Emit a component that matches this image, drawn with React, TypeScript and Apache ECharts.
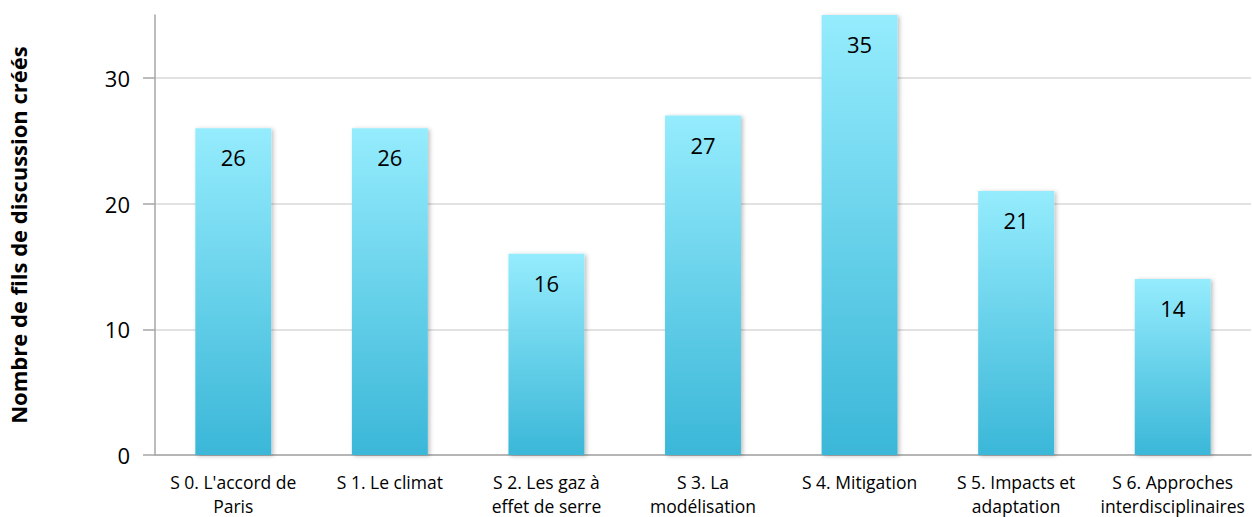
import React, { useEffect, useRef } from "react";
import * as echarts from "echarts";

const categories = [
  "S 0. L'accord de\nParis",
  "S 1. Le climat",
  "S 2. Les gaz à\neffet de serre",
  "S 3. La\nmodélisation",
  "S 4. Mitigation",
  "S 5. Impacts et\nadaptation",
  "S 6. Approches\ninterdisciplinaires",
];
const values = [26, 26, 16, 27, 35, 21, 14];
const yAxisTitle = "Nombre de fils de discussion créés";

const FONT = "'Open Sans', 'Noto Sans', sans-serif";

export default function App() {
  const ref = useRef<HTMLDivElement>(null);
  useEffect(() => {
    if (!ref.current) return;
    const chart = echarts.init(ref.current, null, { renderer: "svg" });
    chart.setOption({
      animation: false,
      grid: {
        left: 155,
        right: 1,
        top: 15,
        bottom: 62,
        containLabel: false,
        outerBoundsMode: "none",
      },
      xAxis: {
        type: "category",
        data: categories,
        axisLine: { lineStyle: { color: "#a6a6a6", width: 1.5 } },
        axisTick: { show: false },
        axisLabel: {
          color: "#000",
          fontFamily: FONT,
          fontSize: 17.5,
          lineHeight: 24,
          margin: 15,
          interval: 0,
        },
      },
      yAxis: {
        type: "value",
        min: 0,
        max: 35,
        interval: 10,
        name: yAxisTitle,
        nameLocation: "middle",
        nameGap: 126,
        nameRotate: 90,
        nameTextStyle: {
          color: "#000",
          fontFamily: FONT,
          fontSize: 22,
          fontWeight: "bold",
        },
        axisLine: { show: true, lineStyle: { color: "#a6a6a6", width: 1.5 } },
        axisTick: { show: true, length: 12, lineStyle: { color: "#a6a6a6", width: 1.5 } },
        axisLabel: {
          color: "#000",
          fontFamily: FONT,
          fontSize: 22,
          margin: 25,
          showMaxLabel: false,
        },
        splitLine: {
          show: true,
          showMaxLine: false,
          lineStyle: { color: "#d9d9d9", width: 1.5 },
        },
      },
      series: [
        {
          type: "bar",
          data: values,
          barWidth: "48.5%",
          itemStyle: {
            color: new echarts.graphic.LinearGradient(0, 0, 0, 1, [
              { offset: 0, color: "#95ecfd" },
              { offset: 1, color: "#3bb7d8" },
            ]),
            shadowBlur: 4,
            shadowColor: "rgba(0,0,0,0.25)",
            shadowOffsetX: 2,
            shadowOffsetY: 1,
          },
          label: {
            show: true,
            position: "insideTop",
            distance: 18,
            color: "#000",
            fontFamily: FONT,
            fontSize: 22,
          },
        },
      ],
    });
    return () => chart.dispose();
  }, []);
  return (
    <div
      ref={ref}
      style={{ position: "absolute", left: 0, top: 0, width: 1252, height: 517 }}
    />
  );
}
